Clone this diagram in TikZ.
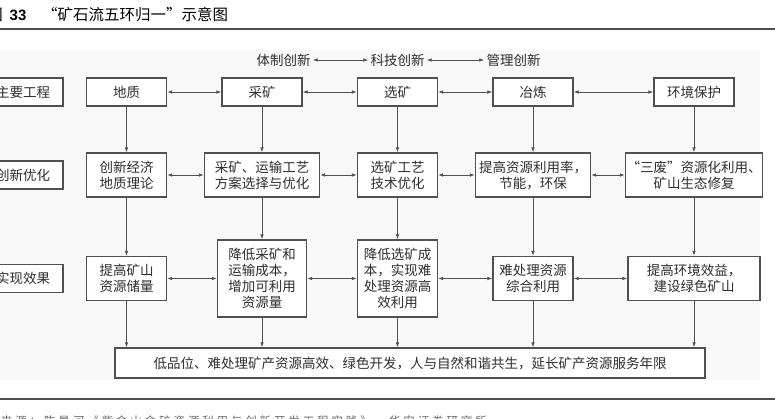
\documentclass[tikz,border=0pt]{standalone}
\usepackage{fontspec}
\newfontfamily\cjk{Noto Sans CJK SC}
\newfontfamily\cjksrc[LetterSpace=25]{Noto Sans CJK SC}
\newfontfamily\arialfont{Liberation Sans}
\usetikzlibrary{arrows.meta}
\definecolor{boxline}{HTML}{505050}
\definecolor{boxtext}{HTML}{2E2E2E}
\definecolor{panel}{HTML}{F8F8F8}

\begin{document}
\begin{tikzpicture}[x=1pt, y=-1pt, node distance=135.5pt,
  main/.style = {draw=boxline, line width=1.2pt, fill=white, text=boxtext, minimum width=80pt, minimum height=28pt, inner sep=1pt, align=center, font=\cjk\fontsize{13.5}{16}\selectfont},
  note/.style = {text=boxtext, inner sep=2pt, font=\cjk\fontsize{13.5}{16}\selectfont},
  link/.style = {draw=boxline, line width=0.8pt, {Latex[length=5pt,width=3.5pt]}-{Latex[length=5pt,width=3.5pt]}},
  flow/.style = {draw=boxline, line width=0.8pt, -{Latex[length=5pt,width=3.5pt]}}]
\useasboundingbox (0,0) rectangle (775,418);
\fill[panel] (0,50) rectangle (760,380);
\draw[boxline, line width=1.2pt] (0,29) -- (775,29);
\draw[boxline, line width=1.2pt] (0,399) -- (775,399);

\node[anchor=east, inner sep=0pt, font=\cjk\fontsize{15.5}{18}\selectfont] (fig) at (3,15) {图};
\node[anchor=west, inner sep=0pt, font=\arialfont\bfseries\fontsize{15}{18}\selectfont] (num) at (9.5,15) {33};
\node[anchor=west, inner sep=0pt, font=\cjk\fontsize{15.5}{18}\selectfont] (title) at (42,15) {“矿石流五环归一”示意图};

\node[main] (geo1) at (126.5,92) {地质};
\node[main] (mine1) [right of=geo1] {采矿};
\node[main] (proc1) [right of=mine1] {选矿};
\node[main] (smelt1) [right of=proc1] {冶炼};
\node[main] (env1) [node distance=161pt, right of=smelt1] {环境保护};

\node[main, minimum height=44pt] (geo2) [node distance=83pt, below of=geo1] {创新经济\\地质理论};
\node[main, minimum height=44pt, minimum width=115pt] (mine2) [node distance=83pt, below of=mine1] {采矿、运输工艺\\方案选择与优化};
\node[main, minimum height=44pt] (proc2) [node distance=83pt, below of=proc1] {选矿工艺\\技术优化};
\node[main, minimum height=44pt, minimum width=115pt] (smelt2) [node distance=83pt, below of=smelt1] {提高资源利用率，\\节能，环保};
\node[main, minimum height=44pt, minimum width=132pt] (env2) [node distance=83pt, below of=env1] {“三废”资源化利用、\\矿山生态修复};

\node[main, minimum height=44pt] (geo3) [node distance=103.5pt, below of=geo2] {提高矿山\\资源储量};
\node[main, minimum height=77pt, minimum width=89pt] (mine3) [node distance=103.5pt, below of=mine2] {降低采矿和\\运输成本，\\增加可利用\\资源量};
\node[main, minimum height=77pt] (proc3) [node distance=103.5pt, below of=proc2] {降低选矿成\\本，实现难\\处理资源高\\效利用};
\node[main, minimum height=44pt] (smelt3) [node distance=103.5pt, below of=smelt2] {难处理资源\\综合利用};
\node[main, minimum height=44pt, minimum width=132pt] (env3) [node distance=103.5pt, below of=env2] {提高环境效益，\\建设绿色矿山};

\node[main, minimum height=30pt, minimum width=590pt] (goal) at (410,363) {低品位、难处理矿产资源高效、绿色开发，人与自然和谐共生，延长矿产资源服务年限};

\node[main] (lab1) [node distance=103.5pt, left of=geo1] {主要工程};
\node[main] (lab2) [node distance=103.5pt, left of=geo2] {创新优化};
\node[main] (lab3) [node distance=103.5pt, left of=geo3] {实现效果};

\node[note] (kj) [node distance=32pt, above of=proc1] {科技创新};
\node[note] (tz) [node distance=114pt, left of=kj] {体制创新};
\node[note] (gl) [node distance=116pt, right of=kj] {管理创新};

\node[anchor=north east, inner sep=0pt, text=black!60, font=\cjksrc\fontsize{11.5}{14}\selectfont] (src) at (487,416) {资料来源：陈景河《紫金山金矿资源利用与创新开发工程实践》，华安证券研究所};

\draw[link] (tz) -- (kj);
\draw[link] (kj) -- (gl);

\draw[link] (geo1) -- (mine1);
\draw[link] (mine1) -- (proc1);
\draw[link] (proc1) -- (smelt1);
\draw[link] (smelt1) -- (env1);
\draw[link] (geo2) -- (mine2);
\draw[link] (mine2) -- (proc2);
\draw[link] (proc2) -- (smelt2);
\draw[link] (smelt2) -- (env2);
\draw[link] (geo3) -- (mine3);
\draw[link] (mine3) -- (proc3);
\draw[link] (proc3) -- (smelt3);
\draw[link] (smelt3) -- (env3);

\draw[flow] (geo1) -- (geo2);
\draw[flow] (mine1) -- (mine2);
\draw[flow] (proc1) -- (proc2);
\draw[flow] (smelt1) -- (smelt2);
\draw[flow] (env1) -- (env2);
\draw[flow] (geo2) -- (geo3);
\draw[flow] (mine2) -- (mine3);
\draw[flow] (proc2) -- (proc3);
\draw[flow] (smelt2) -- (smelt3);
\draw[flow] (env2) -- (env3);
\draw[flow] (geo3) -- (geo3 |- goal.north);
\draw[flow] (mine3) -- (mine3 |- goal.north);
\draw[flow] (proc3) -- (proc3 |- goal.north);
\draw[flow] (smelt3) -- (smelt3 |- goal.north);
\draw[flow] (env3) -- (env3 |- goal.north);
\end{tikzpicture}
\end{document}
